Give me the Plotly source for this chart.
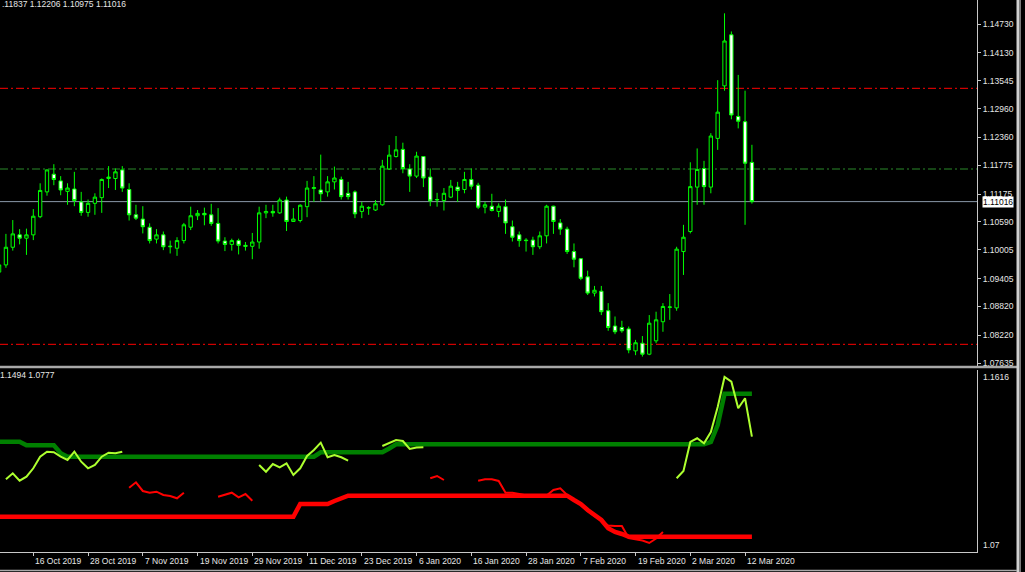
import plotly.graph_objects as go
import pandas as pd

# ---------------- calendar (daily bars, market holidays removed) ----------------
HOLIDAYS = ["2019-12-25", "2020-01-01"]
trade_days = [d for d in pd.bdate_range("2019-10-04", "2020-03-13")
              if d.strftime("%Y-%m-%d") not in HOLIDAYS]
FIRST_BAR = 3  # 9 Oct 2019 is the first candle in view

# ---------------- EURUSD daily OHLC (9 Oct 2019 .. 13 Mar 2020) ----------------
opens = [1.0954, 1.0969, 1.1006, 1.1032, 1.1025, 1.1032, 1.1070, 1.1122, 1.1159, 1.1145,
         1.1123, 1.1128, 1.1101, 1.1079, 1.1098, 1.1110, 1.1150, 1.1150, 1.1168, 1.1127,
         1.1074, 1.1065, 1.1048, 1.1023, 1.1032, 1.1007, 1.1004, 1.1020, 1.1048, 1.1072,
         1.1077, 1.1074, 1.1056, 1.1019, 1.1012, 1.1020, 1.1010, 1.1008, 1.1017, 1.1078,
         1.1081, 1.1078, 1.1105, 1.1060, 1.1062, 1.1091, 1.1129, 1.1126, 1.1122, 1.1143,
         1.1148, 1.1119, 1.1122, 1.1081, 1.1088, 1.1084, 1.1095, 1.1170, 1.1196, 1.1211,
         1.1170, 1.1155, 1.1196, 1.1153, 1.1105, 1.1104, 1.1111, 1.1132, 1.1127, 1.1148,
         1.1136, 1.1090, 1.1092, 1.1081, 1.1091, 1.1049, 1.1032, 1.1021, 1.1021, 1.1007,
         1.1030, 1.1092, 1.1057, 1.1044, 1.0997, 1.0982, 1.0944, 1.0910, 1.0914, 1.0873,
         1.0841, 1.0838, 1.0835, 1.0789, 1.0805, 1.0782, 1.0810, 1.0850, 1.0880, 1.0879,
         1.0997, 1.1039, 1.1132, 1.1171, 1.1132, 1.1234, 1.1344, 1.1451, 1.1280, 1.1269,
         1.11837]
highs = [1.0983, 1.1034, 1.1063, 1.1044, 1.1045, 1.1086, 1.1140, 1.1169, 1.1180, 1.1155,
         1.1140, 1.1164, 1.1122, 1.1106, 1.1119, 1.1150, 1.1176, 1.1171, 1.1176, 1.1140,
         1.1095, 1.1092, 1.1056, 1.1044, 1.1039, 1.1020, 1.1027, 1.1057, 1.1091, 1.1084,
         1.1089, 1.1097, 1.1088, 1.1027, 1.1024, 1.1024, 1.1017, 1.1036, 1.1091, 1.1095,
         1.1095, 1.1110, 1.1112, 1.1088, 1.1096, 1.1145, 1.1155, 1.1200, 1.1155, 1.1175,
         1.1154, 1.1143, 1.1125, 1.1101, 1.1092, 1.1105, 1.1189, 1.1220, 1.1239, 1.1225,
         1.1180, 1.1206, 1.1197, 1.1171, 1.1120, 1.1130, 1.1147, 1.1143, 1.1164, 1.1171,
         1.1141, 1.1101, 1.1118, 1.1098, 1.1106, 1.1062, 1.1039, 1.1025, 1.1028, 1.1039,
         1.1095, 1.1093, 1.1065, 1.1049, 1.1014, 1.0983, 1.0957, 1.0925, 1.0925, 1.0889,
         1.0861, 1.0852, 1.0840, 1.0812, 1.0820, 1.0864, 1.0871, 1.0889, 1.0908, 1.1007,
         1.1053, 1.1184, 1.1213, 1.1187, 1.1245, 1.1356, 1.1496, 1.1458, 1.1367, 1.1334,
         1.12206]
lows = [1.0943, 1.0963, 1.0999, 1.1012, 1.0990, 1.1021, 1.1067, 1.1114, 1.1136, 1.1115,
        1.1095, 1.1092, 1.1072, 1.1070, 1.1074, 1.1078, 1.1130, 1.1126, 1.1122, 1.1062,
        1.1063, 1.1035, 1.1014, 1.1014, 1.1000, 1.0993, 1.0988, 1.1014, 1.1042, 1.1063,
        1.1052, 1.1051, 1.1014, 1.0998, 1.0999, 1.0991, 1.0999, 1.0981, 1.1003, 1.1067,
        1.1070, 1.1076, 1.1040, 1.1059, 1.1058, 1.1069, 1.1101, 1.1101, 1.1112, 1.1127,
        1.1106, 1.1106, 1.1067, 1.1067, 1.1074, 1.1082, 1.1093, 1.1168, 1.1194, 1.1161,
        1.1122, 1.1151, 1.1132, 1.1092, 1.1091, 1.1083, 1.1109, 1.1101, 1.1119, 1.1127,
        1.1086, 1.1077, 1.1081, 1.1069, 1.1034, 1.1018, 1.1007, 1.0997, 1.0990, 1.1002,
        1.1014, 1.1034, 1.1032, 1.0992, 1.0964, 1.0937, 1.0906, 1.0903, 1.0864, 1.0831,
        1.0824, 1.0827, 1.0784, 1.0780, 1.0777, 1.0780, 1.0805, 1.0829, 1.0854, 1.0873,
        1.0948, 1.1035, 1.1095, 1.1095, 1.1119, 1.1210, 1.1334, 1.1274, 1.1255, 1.1053,
        1.10975]
closes = [1.0969, 1.1006, 1.1034, 1.1025, 1.1032, 1.1071, 1.1125, 1.1168, 1.1148, 1.1126,
          1.1130, 1.1104, 1.1079, 1.1098, 1.1111, 1.1148, 1.1153, 1.1164, 1.1130, 1.1074,
          1.1067, 1.1049, 1.1020, 1.1032, 1.1007, 1.1008, 1.1020, 1.1053, 1.1072, 1.1077,
          1.1074, 1.1056, 1.1019, 1.1012, 1.1020, 1.1010, 1.1008, 1.1017, 1.1078, 1.1081,
          1.1078, 1.1105, 1.1060, 1.1065, 1.1094, 1.1130, 1.1131, 1.1118, 1.1143, 1.1151,
          1.1112, 1.1112, 1.1076, 1.1092, 1.1089, 1.1097, 1.1176, 1.1199, 1.1210, 1.1171,
          1.1155, 1.1197, 1.1151, 1.1103, 1.1106, 1.1119, 1.1134, 1.1125, 1.1148, 1.1134,
          1.1090, 1.1095, 1.1083, 1.1092, 1.1057, 1.1027, 1.1020, 1.1020, 1.1007, 1.1030,
          1.1092, 1.1060, 1.1044, 1.0997, 1.0981, 1.0941, 1.0910, 1.0916, 1.0871, 1.0838,
          1.0829, 1.0831, 1.0791, 1.0806, 1.0782, 1.0847, 1.0854, 1.0882, 1.0881, 1.1002,
          1.1027, 1.1133, 1.1169, 1.1133, 1.1239, 1.1289, 1.1438, 1.1283, 1.1270, 1.1182,
          1.11016]

# ---------------- horizontal levels drawn on the price window ----------------
level_values = [1.13389, 1.11699, 1.08027]
level_colors = ["#FF0000", "#2A8A2A", "#FF0000"]

# ---------------- price scale ticks ----------------
price_ticks = [1.14730, 1.14130, 1.13545, 1.12960, 1.12360, 1.11775, 1.11175,
               1.10590, 1.10005, 1.09405, 1.08820, 1.08220, 1.07635]

# ---------------- indicator window buffers ----------------
upper_band = [1.12537, 1.12537, 1.12537, 1.12537, 1.12356, 1.12356, 1.12356, 1.12356, 1.12356, 1.11955,
              1.11784, 1.11784, 1.11784, 1.11784, 1.11784, 1.11784, 1.11784, 1.11784, 1.11784, 1.11784,
              1.11784, 1.11784, 1.11784, 1.11784, 1.11784, 1.11784, 1.11784, 1.11784, 1.11784, 1.11784,
              1.11784, 1.11784, 1.11784, 1.11784, 1.11784, 1.11784, 1.11784, 1.11784, 1.11784, 1.11784,
              1.11784, 1.11784, 1.11784, 1.11784, 1.11784, 1.11784, 1.11784, 1.12005, 1.12005, 1.12005,
              1.12005, 1.12005, 1.12005, 1.12005, 1.12005, 1.12005, 1.12005, 1.12196, 1.12407, 1.12407,
              1.12407, 1.12407, 1.12407, 1.12407, 1.12407, 1.12407, 1.12407, 1.12407, 1.12407, 1.12407,
              1.12407, 1.12407, 1.12407, 1.12407, 1.12407, 1.12407, 1.12407, 1.12407, 1.12407, 1.12407,
              1.12407, 1.12407, 1.12407, 1.12407, 1.12407, 1.12407, 1.12407, 1.12407, 1.12407, 1.12407,
              1.12407, 1.12407, 1.12407, 1.12407, 1.12407, 1.12407, 1.12407, 1.12407, 1.12407, 1.12407,
              1.12407, 1.12407, 1.12407, 1.12407, 1.12522, 1.13376, 1.1494, 1.1494, 1.1494, 1.1494,
              1.1494]
lower_band = [1.08772, 1.08772, 1.08772, 1.08772, 1.08772, 1.08772, 1.08772, 1.08772, 1.08772, 1.08772,
              1.08772, 1.08772, 1.08772, 1.08772, 1.08772, 1.08772, 1.08772, 1.08772, 1.08772, 1.08772,
              1.08772, 1.08772, 1.08772, 1.08772, 1.08772, 1.08772, 1.08772, 1.08772, 1.08772, 1.08772,
              1.08772, 1.08772, 1.08772, 1.08772, 1.08772, 1.08772, 1.08772, 1.08772, 1.08772, 1.08772,
              1.08772, 1.08772, 1.08772, 1.08772, 1.0941, 1.0941, 1.0941, 1.0941, 1.0941, 1.0956,
              1.09711, 1.09826, 1.09826, 1.09826, 1.09826, 1.09826, 1.09826, 1.09826, 1.09826, 1.09826,
              1.09826, 1.09826, 1.09826, 1.09826, 1.09826, 1.09826, 1.09826, 1.09826, 1.09826, 1.09826,
              1.09826, 1.09826, 1.09826, 1.09826, 1.09826, 1.09826, 1.09826, 1.09826, 1.09826, 1.09826,
              1.09826, 1.09826, 1.09826, 1.09826, 1.0961, 1.0941, 1.09108, 1.08857, 1.08606, 1.0819,
              1.08004, 1.07904, 1.0777, 1.0777, 1.0777, 1.0777, 1.0777, 1.0777, 1.0777, 1.0777,
              1.0777, 1.0777, 1.0777, 1.0777, 1.0777, 1.0777, 1.0777, 1.0777, 1.0777, 1.0777,
              1.0777]
signal_up = [None, 1.1065, 1.10951, 1.10579, 1.1078, 1.11202, 1.11784, 1.12035, 1.12005, 1.11784,
             1.11618, 1.12035, 1.11533, 1.11202, 1.11367, 1.11784, 1.11985, 1.11955, 1.12035, None,
             None, None, None, None, None, None, None, None, None, None,
             None, None, None, None, None, None, None, None, 1.11367, 1.11031,
             1.11418, 1.11252, 1.11453, 1.10865, 1.11202, 1.11819, 1.1212, 1.12487, 1.11754, 1.11869,
             1.11754, 1.11583, None, None, None, None, 1.12321, 1.12472, 1.12622, 1.12572,
             1.12171, 1.12246, 1.12256, None, None, None, None, None, None, None,
             None, None, None, None, None, None, None, None, None, None,
             None, None, None, None, None, None, None, None, None, None,
             None, None, None, None, None, None, None, None, None, 1.107,
             1.11066, 1.12522, 1.12708, 1.12457, 1.13024, 1.14279, 1.15785, 1.15549, 1.14214, 1.14716,
             1.12788]
signal_dn = [None, None, None, None, None, None, None, None, None, None,
             None, None, None, None, None, None, None, None, None, 1.10228,
             1.10499, 1.10062, 1.09977, 1.10027, 1.09861, 1.09811, 1.09696, 1.09977, None, None,
             None, None, 1.09776, 1.09861, 1.09977, 1.09746, 1.09912, 1.09575, None, None,
             None, None, None, None, None, None, None, None, None, None,
             None, None, None, None, None, None, None, None, None, None,
             None, None, None, 1.107, 1.10815, 1.10614, None, None, None, None,
             1.10579, 1.1065, 1.1065, 1.10564, 1.09977, 1.09977, 1.09912, 1.09861, 1.09776, 1.09811,
             1.09836, 1.10112, 1.10198, 1.09861, 1.0961, 1.0941, 1.09058, 1.08807, 1.08556, 1.0833,
             1.08305, 1.08305, 1.07703, 1.07628, 1.07577, 1.07452, 1.07678, 1.08004, None, None,
             None, None, None, None, None, None, None, None, None, None,
             None]

header_text = ".11837 1.12206 1.10975 1.11016"
indicator_text = "1.1494 1.0777"
indicator_max, indicator_min = 1.1616, 1.07

# ---------------- derived ----------------
bar_x = list(range(FIRST_BAR, FIRST_BAR + len(opens)))
tick_idx = list(range(0, len(trade_days), 8))
tick_text = [f"{trade_days[i].day} {trade_days[i]:%b %Y}" for i in tick_idx]
last_price = closes[-1]

W, H = 1025, 572
def px(p):
    return p / W
def py(p):
    return 1 - p / H

X_RANGE = [3.134, 145.89]
PLOT_RIGHT = px(977)
AX_COL = "#c8c8c8"
TXT_COL = "#e6e6e6"
FONT = "Liberation Sans"
FS = 8.5
GREEN = "#00FF00"

fig = go.Figure()

fig.add_trace(go.Candlestick(
    x=bar_x, open=opens, high=highs, low=lows, close=closes,
    increasing=dict(line=dict(color=GREEN, width=1), fillcolor="black"),
    decreasing=dict(line=dict(color=GREEN, width=1), fillcolor="white"),
    whiskerwidth=0, xaxis="x", yaxis="y", hoverinfo="skip", showlegend=False))

fig.add_trace(go.Scatter(x=bar_x, y=upper_band, mode="lines", xaxis="x2", yaxis="y2",
                         line=dict(color="#008000", width=4.5), hoverinfo="skip", showlegend=False))
fig.add_trace(go.Scatter(x=bar_x, y=lower_band, mode="lines", xaxis="x2", yaxis="y2",
                         line=dict(color="#FF0000", width=4.5), hoverinfo="skip", showlegend=False))
fig.add_trace(go.Scatter(x=bar_x, y=signal_up, mode="lines", xaxis="x2", yaxis="y2",
                         line=dict(color="#ADFF2F", width=2), hoverinfo="skip", showlegend=False))
fig.add_trace(go.Scatter(x=bar_x, y=signal_dn, mode="lines", xaxis="x2", yaxis="y2",
                         line=dict(color="#FF0000", width=2), hoverinfo="skip", showlegend=False))

shapes = []
for lv, col in zip(level_values, level_colors):
    shapes.append(dict(type="line", xref="x domain", yref="y", x0=0, x1=1, y0=lv, y1=lv,
                       line=dict(color=col, width=1, dash="8px,3px,2px,3px"), layer="below"))
shapes.append(dict(type="line", xref="x domain", yref="y", x0=0, x1=1, y0=last_price, y1=last_price,
                   line=dict(color="#8A98A8", width=1), layer="below"))
# window separator and frame
shapes.append(dict(type="line", xref="paper", yref="paper", x0=0, x1=px(1017), y0=py(367), y1=py(367),
                   line=dict(color="#a8a8a8", width=2.5)))
shapes.append(dict(type="rect", xref="paper", yref="paper", x0=px(1016.5), x1=px(1019), y0=0, y1=1,
                   fillcolor="#d0d0d0", line=dict(width=0)))
shapes.append(dict(type="rect", xref="paper", yref="paper", x0=px(1019), x1=px(1021), y0=0, y1=1,
                   fillcolor="#7a7a7a", line=dict(width=0)))
shapes.append(dict(type="line", xref="paper", yref="paper", x0=0, x1=px(1017), y0=py(570.5), y1=py(570.5),
                   line=dict(color="#a8a8a8", width=1.5)))

annotations = []
annotations.append(dict(xref="paper", yref="paper", x=0, y=1, xanchor="left", yanchor="top",
                        yshift=3, text=header_text, showarrow=False,
                        font=dict(family=FONT, size=FS, color=TXT_COL)))
annotations.append(dict(xref="paper", yref="paper", x=0, y=py(375), xanchor="left", yanchor="middle",
                        xshift=-2, text=indicator_text, showarrow=False,
                        font=dict(family=FONT, size=FS, color=TXT_COL)))
annotations.append(dict(xref="paper", yref="y", x=px(982), y=last_price, xanchor="left", yanchor="middle",
                        text=f"{last_price:.5f}", showarrow=False, bgcolor="white", borderpad=0,
                        font=dict(family=FONT, size=FS, color="black")))
annotations.append(dict(xref="paper", yref="y2", x=px(981), y=indicator_max, xanchor="left", yanchor="top",
                        text=f"{indicator_max:.4f}", showarrow=False,
                        font=dict(family=FONT, size=FS, color=TXT_COL)))
annotations.append(dict(xref="paper", yref="y2", x=px(981), y=indicator_min, xanchor="left", yanchor="bottom",
                        text=f"{indicator_min:.2f}", showarrow=False,
                        font=dict(family=FONT, size=FS, color=TXT_COL)))
for ti, tt in zip(tick_idx, tick_text):
    annotations.append(dict(xref="x2", yref="paper", x=ti, y=py(561), xanchor="left", yanchor="middle",
                            text=tt, showarrow=False,
                            font=dict(family=FONT, size=FS, color=TXT_COL)))

fig.update_layout(
    width=W, height=H, margin=dict(l=0, r=0, t=0, b=0),
    paper_bgcolor="black", plot_bgcolor="black", showlegend=False,
    xaxis=dict(domain=[0, PLOT_RIGHT], range=X_RANGE, anchor="y", showticklabels=False,
               showgrid=False, zeroline=False, showline=False, ticks="",
               rangeslider=dict(visible=False), fixedrange=True),
    yaxis=dict(domain=[py(367), 1], range=[1.07552, 1.15239], anchor="x", side="right",
               showgrid=False, zeroline=False, showline=True, linecolor=AX_COL, linewidth=1,
               ticks="outside", ticklen=3, tickcolor=AX_COL, tickvals=price_ticks,
               ticktext=[f"{v:.5f}" for v in price_ticks], automargin=False,
               tickfont=dict(family=FONT, size=FS, color=TXT_COL), fixedrange=True),
    xaxis2=dict(domain=[0, PLOT_RIGHT], range=X_RANGE, anchor="y2", showticklabels=False,
                showgrid=False, zeroline=False, showline=True, linecolor=AX_COL, linewidth=1,
                ticks="outside", ticklen=3, tickcolor=AX_COL, tickvals=tick_idx, fixedrange=True),
    yaxis2=dict(domain=[py(552), py(369.5)], range=[indicator_min, indicator_max], anchor="x2",
                side="right", showgrid=False, zeroline=False, showline=True, linecolor=AX_COL,
                linewidth=1, showticklabels=False, ticks="", fixedrange=True),
    shapes=shapes, annotations=annotations,
)

fig.write_html("out.html", config={"staticPlot": True},
               post_script="document.body.style.margin='0';document.body.style.background='black';")
